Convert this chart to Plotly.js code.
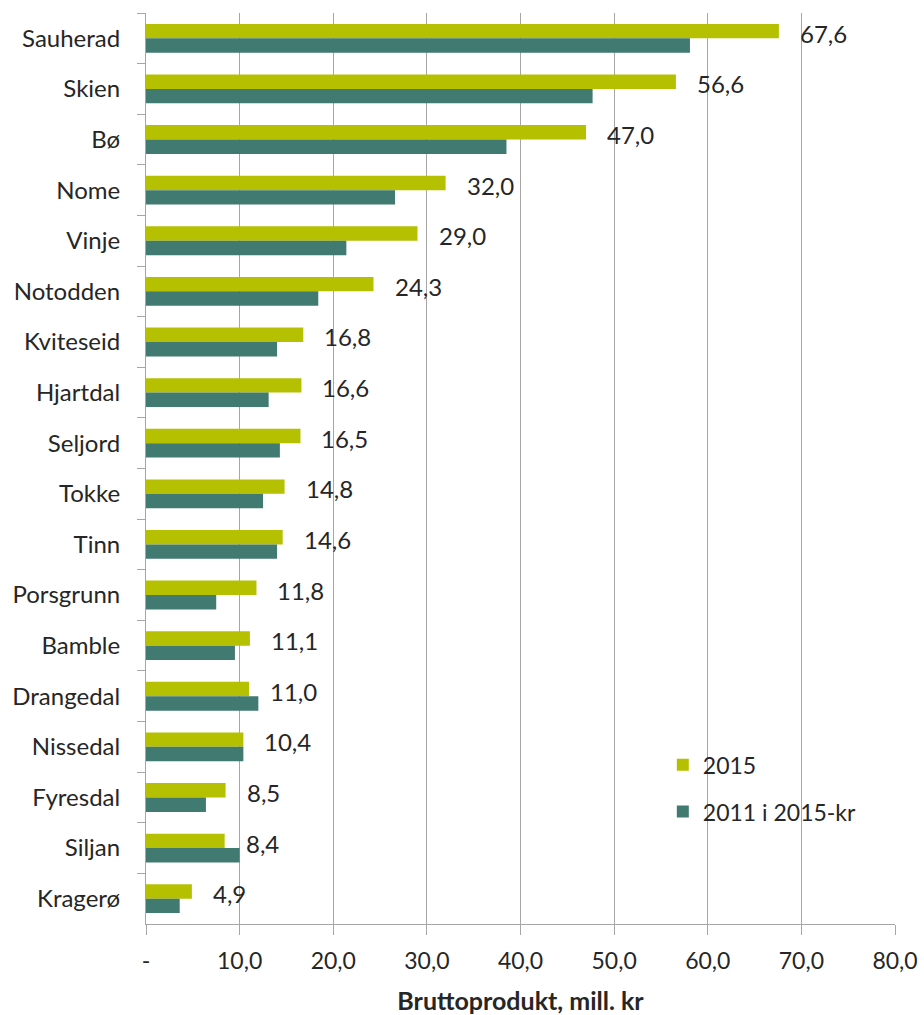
<!DOCTYPE html>
<html>
<head>
<meta charset="utf-8">
<script src="https://cdn.plot.ly/plotly-3.0.1.min.js"></script>
<style>html,body{margin:0;padding:0;background:#fff;}#chart{width:924px;height:1015px;}</style>
</head>
<body>
<div id="chart"></div>
<script>
const categories = ["Sauherad","Skien","Bø","Nome","Vinje","Notodden","Kviteseid","Hjartdal","Seljord","Tokke","Tinn","Porsgrunn","Bamble","Drangedal","Nissedal","Fyresdal","Siljan","Kragerø"];
const values2015 = [67.6,56.6,47.0,32.0,29.0,24.3,16.8,16.6,16.5,14.8,14.6,11.8,11.1,11.0,10.4,8.5,8.4,4.9];
const values2011 = [58.1,47.7,38.5,26.6,21.4,18.4,14.0,13.1,14.3,12.5,14.0,7.5,9.5,12.0,10.4,6.4,10.0,3.6];
const seriesNames = ["2015","2011 i 2015-kr"];
const tickVals = [0,10,20,30,40,50,60,70,80];
const tickText = ["-","10,0","20,0","30,0","40,0","50,0","60,0","70,0","80,0"];
const xTitle = "Bruttoprodukt, mill. kr";

const FONT = "Lato, 'Open Sans', sans-serif";
const TXT = "#262626";

const traces = [
  {type:"bar", orientation:"h", name:seriesNames[0], y:categories, x:values2015,
   marker:{color:"#b5c100"}, legendgroup:"a", hoverinfo:"x"},
  {type:"bar", orientation:"h", name:seriesNames[1], y:categories, x:values2011,
   marker:{color:"#407a71"}, legendgroup:"b", hoverinfo:"x"}
];

const annotations = categories.map((c,i)=>({
  x: values2015[i], y: c, xref:"x", yref:"y",
  text: values2015[i].toFixed(1).replace(".", ","),
  showarrow:false, xanchor:"left", yanchor:"middle",
  xshift: 19, yshift: 5,
  font:{family:FONT, size:24, color:TXT}
}));

const layout = {
  width:924, height:1015,
  margin:{l:146, r:29, t:13, b:91},
  paper_bgcolor:"#fff", plot_bgcolor:"#fff",
  barmode:"group", bargap:0.43, bargroupgap:0,
  separators:", ",
  font:{family:FONT, size:23, color:TXT},
  showlegend:true,
  legend:{x:0.69, y:0.149, xanchor:"left", yanchor:"middle", traceorder:"grouped",
          tracegroupgap:14, font:{family:FONT, size:23, color:TXT}, bgcolor:"rgba(0,0,0,0)"},
  xaxis:{range:[0,80], tickmode:"array", tickvals:tickVals, ticktext:tickText,
         showgrid:true, gridcolor:"#a6a6a6", gridwidth:1,
         showline:true, linecolor:"#a6a6a6", linewidth:1,
         ticks:"outside", ticklen:10, tickcolor:"#a6a6a6",
         ticklabelstandoff:6,
         zeroline:false, fixedrange:true,
         tickfont:{family:FONT, size:23, color:TXT},
         title:{text:"<b>"+xTitle+"</b>", font:{family:FONT, size:25, color:TXT}, standoff:22}},
  yaxis:{type:"category", autorange:"reversed", showgrid:false,
         showline:true, linecolor:"#a6a6a6", linewidth:1,
         ticks:"outside", tickson:"boundaries", ticklen:8, tickcolor:"#a6a6a6",
         ticklabelstandoff:20,
         tickfont:{family:FONT, size:24, color:TXT}, fixedrange:true},
  annotations: annotations
};

Plotly.newPlot("chart", traces, layout, {displayModeBar:false, staticPlot:true});
</script>
</body>
</html>
